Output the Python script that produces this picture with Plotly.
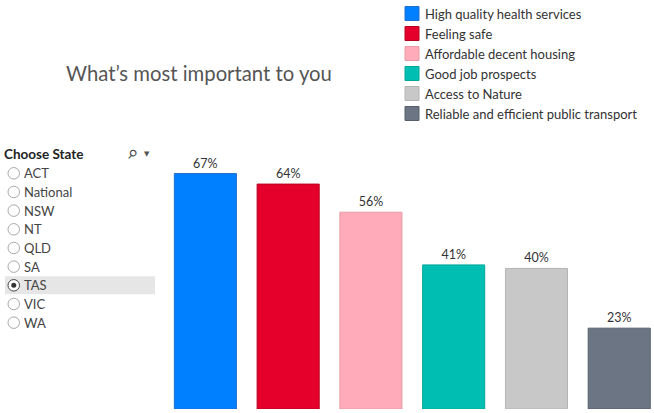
import plotly.graph_objects as go

categories = ["High quality health services", "Feeling safe", "Affordable decent housing",
              "Good job prospects", "Access to Nature", "Reliable and efficient public transport"]
values = [67, 64, 56, 41, 40, 23]
colors = ["#0080FF", "#E4002B", "#FFABB9", "#00BFB2", "#C8C8C8", "#6B7583"]
borders = ["#1F6FD0", "#B8001F", "#E89AA6", "#00A89C", "#B5B5B5", "#56606C"]
states = ["ACT", "National", "NSW", "NT", "QLD", "SA", "TAS", "VIC", "WA"]
selected_state = "TAS"

W, H = 654, 413
FONT = "Lato"
left, right, top, bottom = 164, 0, 163, 4
PW, PH = W - left - right, H - top - bottom

fig = go.Figure()
for i, (c, v) in enumerate(zip(categories, values)):
    fig.add_trace(go.Bar(
        x=[i], y=[v], name=c, width=0.75,
        marker=dict(color=colors[i], line=dict(color=borders[i], width=1)),
        text=[f"{v}%"], textposition="outside", cliponaxis=False,
        textfont=dict(family=FONT, size=12.5, color="#333333"),
        showlegend=False, hoverinfo="skip",
    ))

def px(x):
    return (x - left) / PW

def py(y):
    return 1 - (y - top) / PH

shapes = []
annotations = []

# Legend (custom)
for i, c in enumerate(categories):
    cy = 13.5 + 20 * i
    shapes.append(dict(type="rect", xref="paper", yref="paper",
                       x0=px(405), x1=px(419), y0=py(cy + 7), y1=py(cy - 7),
                       fillcolor=colors[i], line=dict(color=borders[i], width=1)))
    annotations.append(dict(text=c, xref="paper", yref="paper", x=px(423), y=py(cy),
                            xanchor="left", yanchor="middle", showarrow=False,
                            font=dict(family=FONT, size=13, color="#333333")))

# Title
annotations.append(dict(text="What’s most important to you", xref="paper", yref="paper",
                        x=px(64), y=py(73), xanchor="left", yanchor="middle", showarrow=False,
                        font=dict(family=FONT, size=20.3, color="#555555")))

# Filter header
annotations.append(dict(text="<b>Choose State</b>", xref="paper", yref="paper",
                        x=px(2), y=py(154), xanchor="left", yanchor="middle", showarrow=False,
                        font=dict(family=FONT, size=13.5, color="#222222")))
annotations.append(dict(text="⚲", xref="paper", yref="paper", textangle=40,
                        x=px(132), y=py(154), xanchor="center", yanchor="middle", showarrow=False,
                        font=dict(family="DejaVu Sans", size=12, color="#444444")))
annotations.append(dict(text="▼", xref="paper", yref="paper",
                        x=px(147), y=py(154), xanchor="center", yanchor="middle", showarrow=False,
                        font=dict(family="DejaVu Sans", size=7, color="#555555")))

for i, s in enumerate(states):
    cy = 173.3 + 18.67 * i
    if s == selected_state:
        shapes.append(dict(type="rect", xref="paper", yref="paper",
                           x0=px(5), x1=px(155), y0=py(cy + 9), y1=py(cy - 9),
                           fillcolor="#E6E6E6", line=dict(width=0), layer="below"))
    shapes.append(dict(type="circle", xref="paper", yref="paper",
                       x0=px(8), x1=px(19.5), y0=py(cy + 5.75), y1=py(cy - 5.75),
                       fillcolor="white", line=dict(color="#A8A8A8" if s != selected_state else "#444444", width=1)))
    if s == selected_state:
        shapes.append(dict(type="circle", xref="paper", yref="paper",
                           x0=px(11.25), x1=px(16.25), y0=py(cy + 2.5), y1=py(cy - 2.5),
                           fillcolor="#333333", line=dict(width=0)))
    annotations.append(dict(text=s, xref="paper", yref="paper", x=px(22), y=py(cy),
                            xanchor="left", yanchor="middle", showarrow=False,
                            font=dict(family=FONT, size=13, color="#444444")))

fig.update_layout(
    width=W, height=H,
    margin=dict(l=left, r=right, t=top, b=bottom),
    paper_bgcolor="white", plot_bgcolor="white",
    barmode="overlay",
    shapes=shapes, annotations=annotations,
    xaxis=dict(range=[-0.5, 5.42], showticklabels=False, showgrid=False, zeroline=False,
               showline=False, ticks=""),
    yaxis=dict(range=[0, 70], showticklabels=False, showgrid=False, zeroline=False,
               showline=False, ticks=""),
    font=dict(family=FONT),
)

fig.write_html("out.html", config={"displayModeBar": False},
               post_script="document.body.style.margin='0';")
